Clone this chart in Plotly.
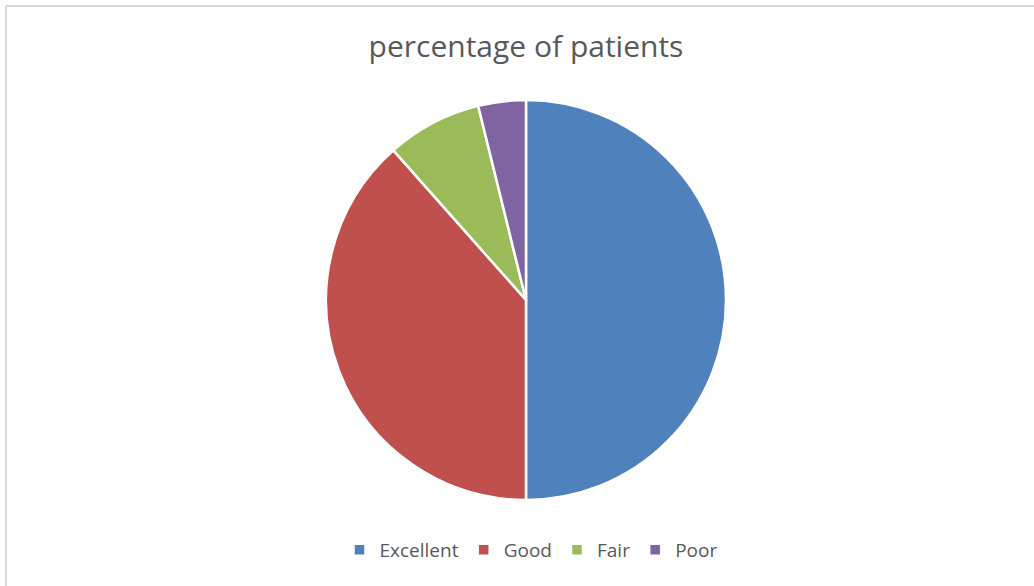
import plotly.graph_objects as go

categories = ["Excellent", "Good", "Fair", "Poor"]
values = [13, 10, 2, 1]
colors = ["#4F81BD", "#C0504D", "#9BBB59", "#8064A2"]

W, H = 1034, 586
cx, cy, r = 526, 300, 200

fig = go.Figure(go.Pie(
    labels=categories,
    values=values,
    sort=False,
    direction="clockwise",
    rotation=0,
    marker=dict(colors=colors, line=dict(color="white", width=2.5)),
    textinfo="none",
    hoverinfo="label+percent",
    domain=dict(x=[(cx - r) / W, (cx + r) / W], y=[1 - (cy + r) / H, 1 - (cy - r) / H]),
))

fig.update_layout(
    width=W, height=H,
    margin=dict(l=0, r=0, t=0, b=0),
    paper_bgcolor="white",
    font=dict(family="Open Sans, Liberation Sans, sans-serif", color="#595959"),
    title=dict(text="percentage of patients", x=526 / W, xanchor="center",
               y=1 - 46 / H, yanchor="middle",
               font=dict(size=30, color="#595959")),
    legend=dict(orientation="h", x=531 / W, xanchor="center", y=1 - 550 / H, yanchor="middle",
                font=dict(size=19, color="#595959"), itemwidth=30,
                traceorder="normal"),
    shapes=[
        dict(type="line", xref="paper", yref="paper", x0=6 / W, x1=1, y0=1 - 6 / H, y1=1 - 6 / H,
             line=dict(color="#D9D9D9", width=2)),
        dict(type="line", xref="paper", yref="paper", x0=6 / W, x1=6 / W, y0=0, y1=1 - 6 / H,
             line=dict(color="#D9D9D9", width=2)),
    ],
)

fig.write_html("out.html", config={"displayModeBar": False},
               post_script="document.body.style.margin='0';document.body.style.overflow='hidden';")
